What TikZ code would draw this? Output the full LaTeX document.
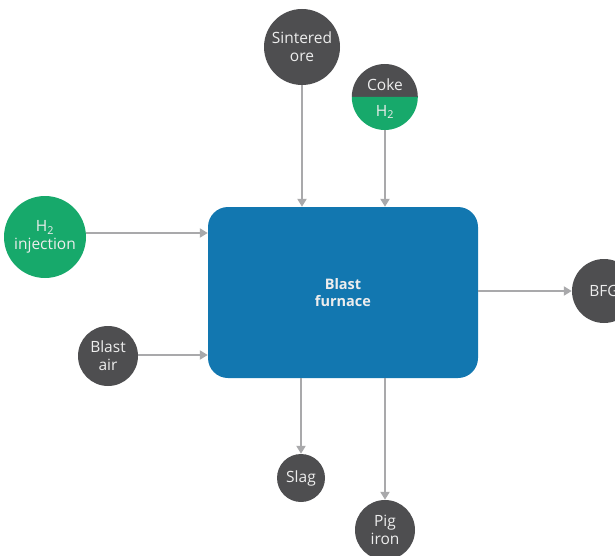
\documentclass[tikz,border=0pt]{standalone}
\usepackage{fontspec}
\setmainfont{Open Sans}
\usetikzlibrary{arrows.meta}
\definecolor{dgrey}{HTML}{4E4E50}
\definecolor{hgreen}{HTML}{17A96B}
\definecolor{bfblue}{HTML}{1277B0}
\definecolor{agrey}{HTML}{A9A9AB}
\definecolor{tgrey}{HTML}{EDEDED}
\tikzset{
  x=1pt,y=-1pt,
  lbl/.style={font=\fontsize{15.5}{18}\selectfont},
  disc/.style={circle,fill=dgrey,text=tgrey,inner sep=0pt,align=center,lbl},
  gdisc/.style={disc,fill=hgreen},
  flow/.style={draw=agrey,line width=2pt,-{Triangle[length=8pt,width=9pt]}},
}
\begin{document}
\begin{tikzpicture}
\useasboundingbox (0,0) rectangle (615,556);
\node[fill=bfblue,rounded corners=20pt,minimum width=270pt,minimum height=171pt,text=tgrey,align=center,font=\bfseries\fontsize{14.5}{17}\selectfont] (bf) at (343,292.5) {Blast\\furnace};
\node[disc,minimum size=76pt] (sint) at (302,47) {Sintered\\ore};
% coke split circle
\node[circle,minimum size=66pt,inner sep=0pt] (coke) at (385,97) {};
\fill[dgrey] (coke.west) arc[start angle=180,end angle=0,radius=33pt] -- cycle;
\fill[hgreen] (coke.west) arc[start angle=180,end angle=360,radius=33pt] -- cycle;
\node[text=tgrey,lbl] (cokel) at (385,85) {Coke};
\node[text=tgrey,lbl] (h2l) at (385,112) {H\textsubscript{2}};
\node[gdisc,minimum size=82pt] (inj) at (45,237) {H\textsubscript{2}\\injection};
\node[disc,minimum size=60pt] (air) at (108,356) {Blast\\air};
\node[disc,minimum size=64pt] (bfg) at (604,291) {BFG};
\node[disc,minimum size=48pt] (slag) at (301,478) {Slag};
\node[disc,minimum size=60pt] (pig) at (385,530) {Pig\\iron};
\draw[flow] (sint.south) -- (sint.south |- bf.north);
\draw[flow] (coke.south) -- (coke.south |- bf.north);
\draw[flow] (inj.east |- 0,233) -- (bf.west |- 0,233);
\draw[flow] (air.east |- 0,355) -- (bf.west |- 0,355);
\draw[flow] (bf.east |- bfg.west) -- (bfg.west);
\draw[flow] (bf.south -| slag.north) -- (slag.north);
\draw[flow] (bf.south -| pig.north) -- (pig.north);
\end{tikzpicture}
\end{document}
